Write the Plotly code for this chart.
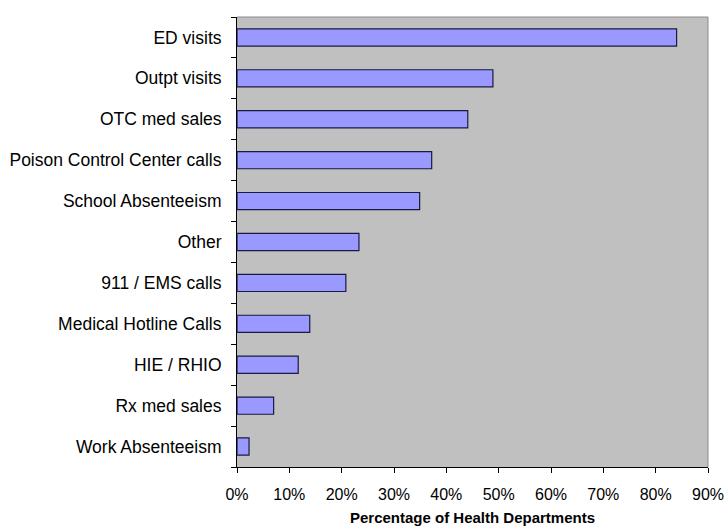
import plotly.graph_objects as go

# Surveillance data sources, listed top to bottom
categories = [
    "ED visits",
    "Outpt visits",
    "OTC med sales",
    "Poison Control Center calls",
    "School Absenteeism",
    "Other",
    "911 / EMS calls",
    "Medical Hotline Calls",
    "HIE / RHIO",
    "Rx med sales",
    "Work Absenteeism",
]
# Percentage of health departments using each source
percent_using = [84.0, 48.9, 44.1, 37.2, 34.9, 23.3, 20.8, 13.9, 11.7, 7.0, 2.3]

x_ticks = [0, 10, 20, 30, 40, 50, 60, 70, 80, 90]
x_tick_labels = [f"{t}%" for t in x_ticks]

FONT = "Liberation Sans, Arial, sans-serif"

fig = go.Figure(
    go.Bar(
        x=percent_using,
        y=categories,
        orientation="h",
        marker=dict(color="#9999FF", line=dict(color="#1a1a40", width=1.2)),
        width=0.42,
        hoverinfo="skip",
    )
)

fig.update_layout(
    width=728,
    height=526,
    margin=dict(l=237, r=20, t=17, b=59),
    paper_bgcolor="white",
    plot_bgcolor="#C0C0C0",
    showlegend=False,
    font=dict(family=FONT, color="black", size=16),
    xaxis=dict(
        range=[0, 90],
        tickvals=x_ticks,
        ticktext=x_tick_labels,
        showgrid=False,
        zeroline=False,
        showline=True,
        linecolor="black",
        linewidth=1,
        ticks="outside",
        ticklen=5,
        tickcolor="black",
        tickfont=dict(size=16),
        ticklabelstandoff=8,
        automargin=False,
        title=dict(
            text="<b>Percentage of Health Departments</b>",
            font=dict(size=15),
            standoff=12,
        ),
    ),
    yaxis=dict(
        categoryorder="array",
        categoryarray=categories[::-1],
        showgrid=False,
        zeroline=False,
        showline=True,
        linecolor="black",
        linewidth=1,
        ticks="outside",
        tickson="boundaries",
        ticklen=5,
        tickcolor="black",
        tickfont=dict(size=17.5),
        ticklabelstandoff=11,
        automargin=False,
    ),
)

# Grey frame along the top and right of the plotting area
fig.add_shape(type="line", xref="paper", yref="paper", x0=0, x1=1, y0=1, y1=1,
              line=dict(color="#8a8a8a", width=1))
fig.add_shape(type="line", xref="paper", yref="paper", x0=1, x1=1, y0=0, y1=1,
              line=dict(color="#8a8a8a", width=1))

fig.write_html("out.html")
